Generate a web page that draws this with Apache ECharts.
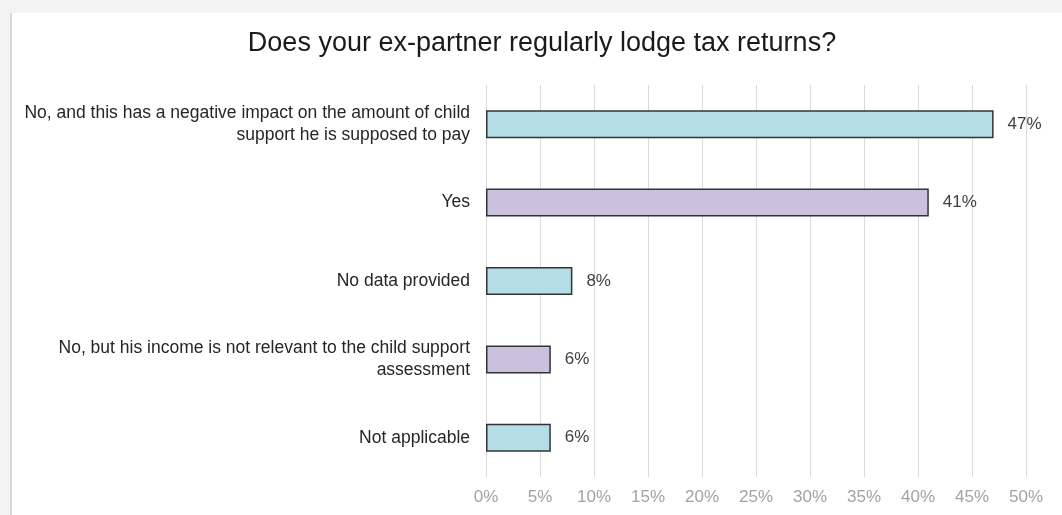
<!DOCTYPE html>
<html>
<head>
<meta charset="utf-8">
<script src="https://cdn.jsdelivr.net/npm/echarts@6/dist/echarts.min.js"></script>
<style>
  html, body { margin: 0; padding: 0; background: #f3f3f3; }
  #wrap { position: relative; width: 1062px; height: 515px; overflow: hidden; }
  #panel { position: absolute; left: 10px; top: 13px; right: 0; bottom: 0; background: #ffffff; border-left: 2px solid #d8d8d8; }
  #chart { position: absolute; left: 0; top: 0; width: 1062px; height: 515px; }
</style>
</head>
<body>
<div id="wrap">
  <div id="panel"></div>
  <div id="chart"></div>
</div>
<script>
// Survey answers, top to bottom
const categories = [
  'No, and this has a negative impact on the amount of child\nsupport he is supposed to pay',
  'Yes',
  'No data provided',
  'No, but his income is not relevant to the child support\nassessment',
  'Not applicable'
];
// Share of respondents, percent
const values = [47, 41, 8, 6, 6];
// Bars alternate between two fills
const fills = ['#b5dde7', '#cbc0dd', '#b5dde7', '#cbc0dd', '#b5dde7'];

const chart = echarts.init(document.getElementById('chart'), null, { renderer: 'canvas' });

chart.setOption({
  backgroundColor: 'transparent',
  animation: false,
  title: {
    text: 'Does your ex-partner regularly lodge tax returns?',
    left: 537,
    top: 25,
    textAlign: 'center',
    textStyle: {
      fontFamily: 'Liberation Sans, Arial, sans-serif',
      fontSize: 27,
      fontWeight: 'normal',
      color: '#1a1a1a'
    }
  },
  grid: { left: 486, right: 36, top: 85, bottom: 38, containLabel: false },
  xAxis: {
    type: 'value',
    min: 0,
    max: 50,
    interval: 5,
    axisLine: { show: false },
    axisTick: { show: false },
    splitLine: { show: true, lineStyle: { color: '#dadada', width: 1 } },
    axisLabel: {
      formatter: '{value}%',
      color: '#a3a3a3',
      fontFamily: 'Liberation Sans, Arial, sans-serif',
      fontSize: 17,
      margin: 12
    }
  },
  yAxis: {
    type: 'category',
    data: categories,
    inverse: true,
    axisLine: { show: false },
    axisTick: { show: false },
    axisLabel: {
      color: '#262626',
      fontFamily: 'Liberation Sans, Arial, sans-serif',
      fontSize: 17.5,
      lineHeight: 22,
      align: 'right',
      margin: 16
    }
  },
  series: [{
    type: 'bar',
    data: values.map((v, i) => ({ value: v, itemStyle: { color: fills[i] } })),
    barWidth: 28,
    itemStyle: { borderColor: '#333333', borderWidth: 1.5 },
    label: {
      show: true,
      position: 'right',
      distance: 14,
      formatter: '{c}%',
      color: '#404040',
      fontFamily: 'Liberation Sans, Arial, sans-serif',
      fontSize: 17
    }
  }]
});
</script>
</body>
</html>
